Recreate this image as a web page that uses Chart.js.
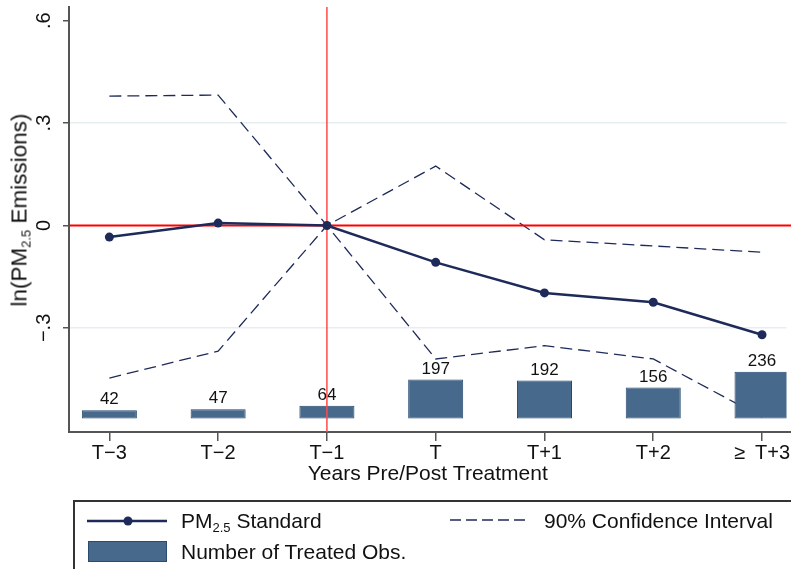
<!DOCTYPE html>
<html>
<head>
<meta charset="utf-8">
<script src="https://cdn.jsdelivr.net/npm/chart.js@4/dist/chart.umd.min.js"></script>
<style>
  html, body { margin:0; padding:0; background:#fff; overflow:hidden; }
  #wrap { position:relative; width:791px; height:569px; overflow:hidden; font-family:"Liberation Sans", Arial, Helvetica, sans-serif; color:#111; }
  #c { position:absolute; left:0; top:0; }
  .lg { position:absolute; white-space:nowrap; font-size:21px; line-height:24px; }
  .sub { font-size:13px; position:relative; top:4px; }
  #ytitle { position:absolute; left:21px; top:210px; transform:translate(-50%,-50%) rotate(-90deg); white-space:nowrap; font-size:22.5px; line-height:26px; }
  #lgbox { position:absolute; left:73px; top:500px; width:800px; height:120px; border:2px solid #333; box-sizing:border-box; }
</style>
</head>
<body>
<div id="wrap">
  <canvas id="c" width="791" height="569"></canvas>
  <div id="ytitle">ln(PM<span class="sub">2.5</span> Emissions)</div>
  <div id="lgbox"></div>
  <svg style="position:absolute;left:87px;top:511px" width="81" height="20">
    <line x1="0" y1="10" x2="80" y2="10" stroke="#1e2b5a" stroke-width="2.5"/>
    <circle cx="41" cy="10" r="4.5" fill="#1e2b5a"/>
  </svg>
  <div class="lg" style="left:181px;top:509px">PM<span class="sub">2.5</span> Standard</div>
  <svg style="position:absolute;left:450px;top:510px" width="80" height="20">
    <line x1="0" y1="10" x2="79" y2="10" stroke="#1e2b5a" stroke-width="1.3" stroke-dasharray="11 5"/>
  </svg>
  <div class="lg" style="left:544px;top:509px">90% Confidence Interval</div>
  <div style="position:absolute;left:88px;top:541px;width:79px;height:21px;background:#46698c;border:1px solid #2a4a70;box-sizing:border-box"></div>
  <div class="lg" style="left:181px;top:540px">Number of Treated Obs.</div>
</div>
<script>
// ---- data ----
const categories = ['T\u22123', 'T\u22122', 'T\u22121', 'T', 'T+1', 'T+2', '\u2265\u2002T+3'];
const estimate   = [-0.034, 0.007, 0.000, -0.108, -0.1975, -0.225, -0.320];
const ciUpper    = [0.379, 0.382, 0.000, 0.174, -0.042, -0.060, -0.0785];
const ciLower    = [-0.447, -0.368, 0.000, -0.391, -0.352, -0.391, -0.5615];
const treatedObs = [42, 47, 64, 197, 192, 156, 236];
const yTicks      = [-0.3, 0, 0.3, 0.6];
const yTickLabels = ['\u2212.3', '0', '.3', '.6'];
const refIndex = 2;   // T-1 reference period
const refValue = 0;
const xTitle = 'Years Pre/Post Treatment';

const FONT = '"Liberation Sans", Arial, Helvetica, sans-serif';
Chart.defaults.font.family = FONT;
Chart.defaults.color = '#111';

const pts = arr => arr.map((v, i) => ({ x: i, y: v }));
const NAVY = '#1e2b5a';

const overlay = {
  id: 'overlay',
  afterDatasetDraw(chart, args) {
    if (args.meta.type !== 'bar') return;
    const ctx = chart.ctx, a = chart.chartArea;
    const xs = chart.scales.x, ys = chart.scales.y;
    ctx.save();
    ctx.font = '17px ' + FONT;
    ctx.fillStyle = '#111';
    ctx.textAlign = 'center';
    ctx.textBaseline = 'bottom';
    args.meta.data.forEach((el, i) => ctx.fillText(String(treatedObs[i]), el.x, el.y - 2));
    const y0 = ys.getPixelForValue(refValue);
    ctx.strokeStyle = '#ff0000'; ctx.lineWidth = 2;
    ctx.beginPath(); ctx.moveTo(a.left, y0); ctx.lineTo(chart.width, y0); ctx.stroke();
    const xr = xs.getPixelForValue(refIndex);
    ctx.strokeStyle = '#ff4a4a'; ctx.lineWidth = 1.5;
    ctx.beginPath(); ctx.moveTo(xr, a.top); ctx.lineTo(xr, a.bottom); ctx.stroke();
    ctx.restore();
  },
  afterDraw(chart) {
    const ctx = chart.ctx, a = chart.chartArea;
    ctx.save();
    ctx.strokeStyle = '#555'; ctx.lineWidth = 2;
    ctx.beginPath(); ctx.moveTo(a.right - 1, a.bottom); ctx.lineTo(chart.width, a.bottom); ctx.stroke();
    ctx.restore();
  }
};

new Chart(document.getElementById('c'), {
  type: 'line',
  data: {
    datasets: [
      { label: 'PM2.5 Standard', data: pts(estimate), borderColor: NAVY, backgroundColor: NAVY,
        borderWidth: 2.5, pointRadius: 4.5, pointBorderWidth: 0, pointBackgroundColor: NAVY, order: 1, yAxisID: 'y' },
      { label: '90% Confidence Interval', data: pts(ciUpper), borderColor: NAVY, borderWidth: 1.3,
        borderDash: [12, 6], pointRadius: 0, order: 3, yAxisID: 'y' },
      { label: '90% Confidence Interval (lower)', data: pts(ciLower), borderColor: NAVY, borderWidth: 1.3,
        borderDash: [12, 6], pointRadius: 0, order: 3, yAxisID: 'y' },
      { type: 'bar', label: 'Number of Treated Obs.', data: pts(treatedObs), backgroundColor: '#46698c',
        borderColor: '#24466d', borderWidth: 1, borderSkipped: false, categoryPercentage: 1, barPercentage: 0.506,
        order: 2, yAxisID: 'y2' }
    ]
  },
  options: {
    responsive: false, animation: false, devicePixelRatio: 1,
    layout: { padding: { top: 7, left: 0, right: 0, bottom: 82 } },
    plugins: { legend: { display: false }, tooltip: { enabled: false } },
    scales: {
      x: {
        type: 'linear', min: -0.371, max: 6.225, offset: false,
        afterBuildTicks: s => { s.ticks = categories.map((_, i) => ({ value: i })); },
        afterFit: s => { s.height = 55; s.paddingLeft = 0; s.paddingRight = 0; },
        border: { color: '#555', width: 2 },
        grid: { offset: false, drawOnChartArea: false, tickColor: '#555', tickLength: 9, lineWidth: 1.5 },
        ticks: { autoSkip: false, minRotation: 0, maxRotation: 0, padding: 0, font: { size: 20 }, color: '#111',
                 callback: (v, i) => categories[i] },
        title: { display: true, text: xTitle, font: { size: 21 }, color: '#111', padding: 0 }
      },
      y: {
        type: 'linear', min: -0.605, max: 0.64,
        afterBuildTicks: s => { s.ticks = yTicks.map(v => ({ value: v })); },
        afterFit: s => { s.width = 69; s.paddingTop = 0; s.paddingBottom = 0; },
        border: { color: '#555', width: 2 },
        grid: { color: c => (c.tick && Math.abs(Math.abs(c.tick.value) - 0.3) < 1e-9) ? '#e6eef1' : 'rgba(0,0,0,0)',
                tickColor: '#555', tickLength: 6, lineWidth: 1.5 },
        ticks: { minRotation: 90, maxRotation: 90, crossAlign: 'center', padding: 4, font: { size: 20 }, color: '#111',
                 callback: (v, i) => yTickLabels[i] }
      },
      y2: { type: 'linear', display: false, min: -68, max: 2073 }
    }
  },
  plugins: [overlay]
});
</script>
</body>
</html>
